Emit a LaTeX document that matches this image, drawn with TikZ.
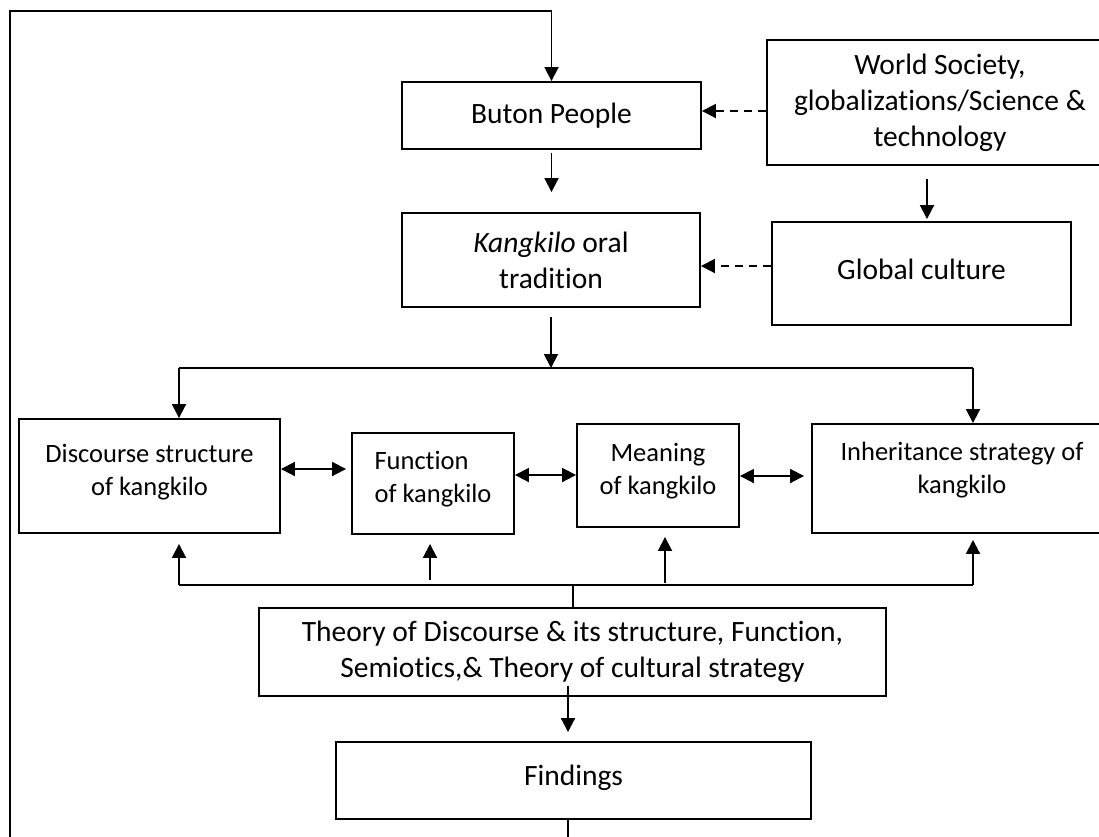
\documentclass[tikz,border=0pt]{standalone}
\usepackage{fontspec}
\setmainfont{Carlito}[Ligatures=NoCommon,RawFeature={-liga;-clig}]
\usetikzlibrary{arrows.meta,calc}
\begin{document}
\begin{tikzpicture}[x=1pt,y=-1pt,
  box/.style={draw,line width=1.9pt,inner sep=0pt,align=center,font=\fontsize{29.5}{36}\selectfont},
  midbox/.style={box,font=\fontsize{26.5}{33}\selectfont},
  conn/.style={line width=1.9pt},
  arr/.style={conn,-{Triangle[length=14pt,width=14pt]}},
  darr/.style={conn,{Triangle[length=14pt,width=14pt]}-{Triangle[length=14pt,width=14pt]}},
  dasharr/.style={arr,dash pattern=on 8pt off 6pt}]
\useasboundingbox (0,0) rectangle (1099,836);
% boxes
\node[box,minimum width=299pt,minimum height=67pt] (buton) at (551.5,115.5) {Buton People};
\node[box,minimum width=346pt,minimum height=125pt] (world) at (940,102.5) {World Society,\\globalizations/Science \&\\technology};
\node[box,minimum width=298pt,minimum height=94pt] (kang) at (551,260) {\textit{Kangkilo} oral\\tradition};
\node[box,minimum width=299pt,minimum height=103pt,text depth=9pt] (glob) at (921.5,273.5) {Global culture};
\node[midbox,minimum width=261pt,minimum height=114pt,text depth=11.5pt] (disc) at (149.5,476) {Discourse structure\\of kangkilo};
\node[midbox,minimum width=162pt,minimum height=101pt,align=left,text depth=13.5pt] (func) at (433,483.5) {Function\\of kangkilo};
\node[midbox,minimum width=162pt,minimum height=103pt,text depth=12.5pt] (mean) at (658,475.5) {Meaning\\of kangkilo};
\node[midbox,minimum width=300pt,minimum height=109pt,text depth=20.5pt] (inh) at (962,478.5) {Inheritance strategy of\\kangkilo};
\node[box,minimum width=627pt,minimum height=88pt] (theo) at (572.5,652) {Theory of Discourse \& its structure, Function,\\Semiotics,\& Theory of cultural strategy};
\node[box,minimum width=475pt,minimum height=77pt,text depth=11pt] (find) at (573.5,780.5) {Findings};
% helper coordinates
\coordinate (dl) at (179,368);
\coordinate (dr) at (973,368);
\coordinate (bl) at (179,585);
\coordinate (br) at (973,585);
\coordinate (bt) at (573,585);
\coordinate (fa) at (430,580);
\coordinate (ma) at (665,583);
\coordinate (tf) at (568,686);
\coordinate (wg) at (927,178);
\coordinate (fb) at (10,842);
\coordinate (ft) at (10,11);
\coordinate (wb) at (0,111);
\coordinate (gk) at (0,266);
\coordinate (da) at (0,469);
\coordinate (db) at (0,475);
\coordinate (dc) at (0,476);
% feedback loop
\draw[arr] (tf |- find.south) -- (tf |- fb) -- (fb) -- (ft) -| (buton.north);
% vertical flow
\draw[arr,shorten <=3pt,shorten >=20pt] (buton.south) -- (buton.south |- kang.north);
\draw[arr,shorten <=9pt] (kang.south) -- (kang.south |- dl);
\draw[conn] (dl) -- (dr);
\draw[arr] (dl) -- (dl |- disc.north);
\draw[arr] (dr) -- (dr |- inh.north);
\draw[arr,shorten <=13pt,shorten >=2pt] (wg |- world.south) -- (wg |- glob.north);
% dashed influences
\draw[dasharr] (world.west |- wb) -- (buton.east |- wb);
\draw[dasharr] (glob.west |- gk) -- (kang.east |- gk);
% double arrows
\draw[darr,shorten >=5pt] (disc.east |- da) -- (func.west |- da);
\draw[darr] (func.east |- db) -- (mean.west |- db);
\draw[darr,shorten >=7pt] (mean.east |- dc) -- (inh.west |- dc);
% theory bracket
\draw[conn] (bl) -- (br);
\draw[arr,shorten >=10pt] (bl) -- (bl |- disc.south);
\draw[arr,shorten >=9pt] (fa) -- (fa |- func.south);
\draw[arr,shorten >=9pt] (ma) -- (ma |- mean.south);
\draw[arr,shorten >=6pt] (br) -- (br |- inh.south);
\draw[conn] (bt) -- (bt |- theo.north);
\draw[arr,shorten >=9pt] (tf) -- (tf |- find.north);
\end{tikzpicture}
\end{document}
